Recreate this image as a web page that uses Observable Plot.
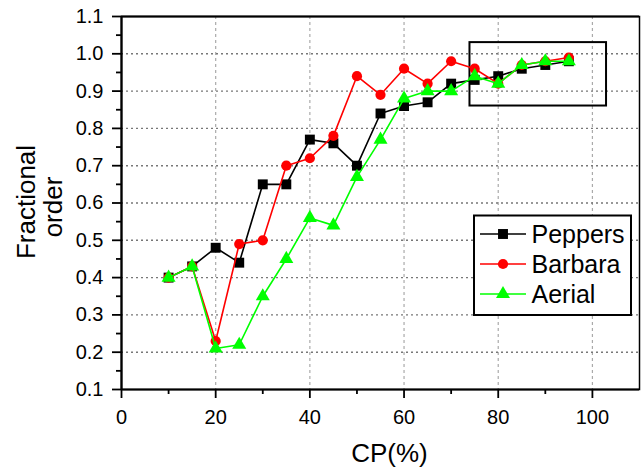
<!DOCTYPE html>
<html><head><meta charset="utf-8">
<script src="https://cdn.jsdelivr.net/npm/d3@7"></script>
<script src="https://cdn.jsdelivr.net/npm/@observablehq/plot@0.6"></script>
<style>body{margin:0;background:#fff} svg{display:block}</style>
</head><body><div id="chart"></div>
<script>
const cp = [10,15,20,25,30,35,40,45,50,55,60,65,70,75,80,85,90,95];
const peppers = [0.40,0.43,0.48,0.44,0.65,0.65,0.77,0.76,0.70,0.84,0.86,0.87,0.92,0.93,0.94,0.96,0.97,0.98];
const barbara = [0.40,0.43,0.23,0.49,0.50,0.70,0.72,0.78,0.94,0.89,0.96,0.92,0.98,0.96,0.92,0.97,0.98,0.99];
const aerial  = [0.40,0.43,0.21,0.22,0.35,0.45,0.56,0.54,0.67,0.77,0.88,0.90,0.90,0.94,0.92,0.97,0.98,0.98];
const seriesNames = ["Peppers","Barbara","Aerial"];
const seriesValues = [peppers, barbara, aerial];
const seriesColors = ["#000000","#ff0000","#00ff00"];
const seriesSymbols = ["square","circle","triangle"];
const symbolR = [5.6, 5.1, 5.2];
const xMajor = [0,20,40,60,80,100];
const xMinor = [10,30,50,70,90];
const yMajor = [0.1,0.2,0.3,0.4,0.5,0.6,0.7,0.8,0.9,1.0,1.1];
const yMinor = [0.15,0.25,0.35,0.45,0.55,0.65,0.75,0.85,0.95,1.05];
const xGrid = [20,40,60,80,100];
const yGrid = [0.2,0.3,0.4,0.5,0.6,0.7,0.8,0.9,1.0];
const zoomBox = [{x1:74, x2:103, y1:0.86, y2:1.03}];

const font = "'Liberation Sans', Arial, sans-serif";

const seriesMarks = seriesNames.flatMap((name, i) => {
  const data = cp.map((c, j) => ({cp: c, v: seriesValues[i][j]}));
  return [
    Plot.line(data, {x: "cp", y: "v", stroke: seriesColors[i], strokeWidth: 1.6}),
    Plot.dot(data, {x: "cp", y: "v", symbol: seriesSymbols[i], r: symbolR[i], fill: seriesColors[i], stroke: "none"})
  ];
});

const svg = Plot.plot({
  width: 642,
  height: 469,
  marginLeft: 121,
  marginRight: 3,
  marginTop: 16,
  marginBottom: 80,
  style: {fontFamily: font, fontSize: "20px", background: "#fff", color: "#000"},
  x: {domain: [0, 110]},
  y: {domain: [0.1, 1.1]},
  marks: [
    Plot.gridX(xGrid, {stroke: "#aaaaaa", strokeOpacity: 1, strokeDasharray: "3,3", strokeWidth: 1.2}),
    Plot.gridY(yGrid, {stroke: "#777777", strokeOpacity: 1, strokeDasharray: "2,3", strokeWidth: 1.4}),
    Plot.axisX({ticks: xMajor, tickSize: 9, tickPadding: 11, strokeWidth: 1.8, fontSize: 20, label: null}),
    Plot.axisX({ticks: xMinor, tickSize: 5, tickFormat: () => "", strokeWidth: 1.8, label: null}),
    Plot.axisY({ticks: yMajor, tickSize: 9, tickPadding: 9, strokeWidth: 1.8, fontSize: 20, tickFormat: d3.format(".1f"), label: null}),
    Plot.axisY({ticks: yMinor, tickSize: 5, tickFormat: () => "", strokeWidth: 1.8, label: null}),
    Plot.frame({stroke: "#000", strokeWidth: 1.5}),
    Plot.ruleX([0], {stroke: "#000", strokeWidth: 2.2}),
    Plot.ruleY([0.1], {stroke: "#000", strokeWidth: 2.2}),
    Plot.ruleY([1.1], {stroke: "#000", strokeWidth: 2.2}),
    Plot.rect(zoomBox, {x1: "x1", x2: "x2", y1: "y1", y2: "y2", fill: "none", stroke: "#000", strokeWidth: 2}),
    ...seriesMarks,
    Plot.text(["CP(%)"], {frameAnchor: "bottom", textAnchor: "middle", lineAnchor: "middle", dx: 9, dy: 64.4, fontSize: 26}),
    Plot.text(["Fractional"], {frameAnchor: "left", textAnchor: "middle", lineAnchor: "middle", rotate: -90, dx: -95, dy: -1, fontSize: 26}),
    Plot.text(["order"], {frameAnchor: "left", textAnchor: "middle", lineAnchor: "middle", rotate: -90, dx: -67.6, dy: 4, fontSize: 26})
  ]
});

// Legend
const lg = d3.select(svg).append("g").attr("font-family", font).attr("text-anchor", "start");
lg.append("rect").attr("x", 474).attr("y", 215.5).attr("width", 157).attr("height", 99.5)
  .attr("fill", "#fff").attr("stroke", "#000").attr("stroke-width", 2);
const symMap = {square: d3.symbolSquare, circle: d3.symbolCircle, triangle: d3.symbolTriangle};
seriesNames.forEach((name, i) => {
  const cy = 234 + i * 30;
  lg.append("line").attr("x1", 480).attr("x2", 526).attr("y1", cy).attr("y2", cy)
    .attr("stroke", seriesColors[i]).attr("stroke-width", 1.6);
  lg.append("path").attr("transform", `translate(503,${cy})`)
    .attr("d", d3.symbol(symMap[seriesSymbols[i]], Math.PI * symbolR[i] * symbolR[i])())
    .attr("fill", seriesColors[i]);
  lg.append("text").attr("x", 531.5).attr("y", cy + 9.3).attr("font-size", 25)
    .attr("text-anchor", "start").attr("fill", "#000").text(name);
});

document.getElementById("chart").appendChild(svg);
</script>
</body></html>
